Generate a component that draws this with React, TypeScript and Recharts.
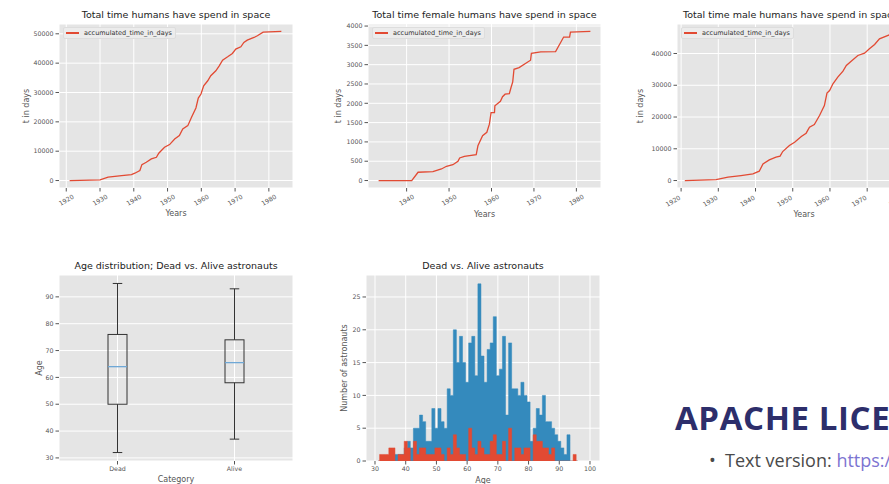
import {
  LineChart, Line, AreaChart, Area, BarChart, Bar, XAxis, YAxis, CartesianGrid, Legend,
} from 'recharts'

// matplotlib "ggplot" look
const FONT = '"DejaVu Sans", sans-serif'
const LINE_RED = '#E24A33'
const HIST_BLUE = '#348ABD'
const MEDIAN_BLUE = '#6FA8D6'
const PANEL = '#E5E5E5'
const MUTED = '#555555'
const SERIES = 'accumulated_time_in_days'

// accumulated days in space, everyone
const totalYears = [1921, 1930, 1932.4, 1936.4, 1939.3, 1940.3, 1941.8, 1942.4, 1943.7, 1945.2, 1946.7, 1947.4, 1949.1, 1950.6, 1952.1, 1953.5, 1954.5, 1956, 1957.1, 1958.4, 1959.1, 1959.9, 1960.7, 1961.9, 1962.8, 1964.3, 1965.3, 1966.3, 1967.8, 1969.2, 1970.2, 1971.7, 1972.6, 1973.6, 1975.6, 1976.6, 1978.3, 1983.7]
const totalDays = [0, 230, 1130, 1700, 2040, 2500, 3400, 5440, 6240, 7370, 7940, 9300, 11340, 12250, 14170, 15300, 17570, 18700, 21540, 24720, 28120, 29480, 32300, 34000, 35700, 37400, 39100, 41040, 42170, 43310, 44780, 45580, 47050, 47850, 48750, 49320, 50570, 50800]

// female astronauts
const femaleYears = [1933.4, 1941.2, 1942.7, 1946.2, 1948.2, 1949.4, 1950.9, 1952.1, 1952.5, 1953.6, 1956.4, 1956.8, 1957.9, 1958.9, 1959.5, 1959.9, 1960.7, 1960.8, 1962.1, 1962.6, 1963.2, 1964.2, 1964.6, 1965, 1965.3, 1966.5, 1969.2, 1969.4, 1971.6, 1975.1, 1977, 1978.4, 1978.6, 1983.3]
const femaleDays = [0, 0, 215, 230, 300, 370, 410, 500, 585, 628, 670, 900, 1160, 1250, 1460, 1760, 1760, 1935, 2050, 2170, 2235, 2250, 2410, 2555, 2880, 2925, 3115, 3295, 3330, 3340, 3715, 3715, 3845, 3860]

// male astronauts
const maleYears = [1921, 1929.4, 1932.6, 1936.1, 1939.3, 1941, 1942, 1943.7, 1945.5, 1946.6, 1947.3, 1949.1, 1950.5, 1952.3, 1953.6, 1954.5, 1955.8, 1957.2, 1958.5, 1959.2, 1959.9, 1960.8, 1962.1, 1963.5, 1964.4, 1965.7, 1967.5, 1969.3, 1970.6, 1972, 1973.3, 1976.2, 1978.3, 1983.7]
const maleDays = [0, 300, 1050, 1570, 2100, 2940, 5250, 6510, 7350, 7670, 9130, 11020, 12070, 13860, 14910, 16800, 17640, 20470, 23620, 27510, 28350, 30450, 32540, 34440, 36220, 37590, 39370, 40100, 41470, 42840, 44620, 45990, 46850, 46940]

const yearTicks = [1920, 1930, 1940, 1950, 1960, 1970, 1980]
const femaleYearTicks = [1940, 1950, 1960, 1970, 1980]
const totalDayTicks = [0, 10000, 20000, 30000, 40000, 50000]
const femaleDayTicks = [0, 500, 1000, 1500, 2000, 2500, 3000, 3500, 4000]
const maleDayTicks = [0, 10000, 20000, 30000, 40000]

// age at death / current age, box stats
const boxCategories = ['Dead', 'Alive']
const boxMin = [32, 37]
const boxQ1 = [50, 58]
const boxMedian = [64, 65.5]
const boxQ3 = [76, 74]
const boxMax = [95, 93]
const boxAgeTicks = [30, 40, 50, 60, 70, 80, 90]

// histogram, one bin per year of age (empty bins at both ends)
const histAges = [31, 32, 33, 34, 35, 36, 37, 38, 39, 40, 41, 42, 43, 44, 45, 46, 47, 48, 49, 50, 51, 52, 53, 54, 55, 56, 57, 58, 59, 60, 61, 62, 63, 64, 65, 66, 67, 68, 69, 70, 71, 72, 73, 74, 75, 76, 77, 78, 79, 80, 81, 82, 83, 84, 85, 86, 87, 88, 89, 90, 91, 92, 93, 94, 95, 96]
const aliveCounts = [0, 0, 0, 0, 0, 0, 1, 1, 1, 2, 3, 2, 5, 5, 7, 6, 3, 3, 8, 5, 8, 6, 5, 11, 10, 20, 15, 19, 15, 12, 18, 19, 13, 27, 16, 12, 17, 18, 22, 13, 14, 19, 7, 18, 11, 11, 10, 12, 10, 9, 3, 5, 8, 7, 10, 6, 6, 5, 4, 3, 2, 1, 4, 0, 0, 0]
const deadCounts = [0, 1, 1, 1, 2, 2, 0, 1, 1, 3, 2, 0, 3, 1, 2, 2, 1, 1, 1, 2, 2, 1, 0, 2, 1, 4, 2, 1, 1, 0, 5, 2, 1, 3, 2, 1, 1, 3, 4, 1, 1, 3, 0, 5, 0, 2, 2, 1, 2, 2, 0, 4, 3, 3, 2, 2, 1, 2, 0, 0, 0, 0, 0, 0, 1, 0]
const histAgeTicks = [30, 40, 50, 60, 70, 80, 90, 100]
const histCountTicks = [0, 5, 10, 15, 20, 25]

const TICK = { fill: MUTED, fontSize: 6.3, fontFamily: FONT }
const AXIS_LABEL = { fill: MUTED, fontSize: 8, fontFamily: FONT }

function Title({ text, top, cx, left }: { text: string; top: number; cx?: number; left?: number }) {
  const place = cx !== undefined ? { left: cx - 150, width: 300, textAlign: 'center' as const } : { left }
  return (
    <div style={{ position: 'absolute', top, fontFamily: FONT, fontSize: 9.5, lineHeight: '12px', color: '#222', whiteSpace: 'nowrap', ...place }}>
      {text}
    </div>
  )
}

function YearTick({ x, y, payload, align }: any) {
  const tx = align === 'right' ? x : x + 1.2
  const ty = align === 'right' ? y + 5.5 : y + 8.5
  return (
    <text x={tx} y={ty} textAnchor={align === 'right' ? 'end' : 'middle'} fill={MUTED} fontSize={6.3} fontFamily={FONT} transform={`rotate(-30, ${tx}, ${ty})`}>
      {payload.value}
    </text>
  )
}

function SeriesLegend({ payload }: any) {
  const item = payload && payload[0]
  if (!item) return null
  return (
    <div style={{ display: 'flex', alignItems: 'center', boxSizing: 'border-box', height: 12, padding: '0 3px 0 2px', background: '#ECECEC', border: '1px solid #DDDDDD', borderRadius: 2, fontFamily: FONT, fontSize: 6.5, color: '#333', whiteSpace: 'nowrap' }}>
      <span style={{ display: 'inline-block', width: 13, height: 1.4, background: item.color, marginRight: 5 }} />
      {item.value}
    </div>
  )
}

interface TimeChartProps {
  title: string
  titleLeft?: number
  years: number[]
  days: number[]
  left: number
  width: number
  yAxisWidth: number
  marginRight: number
  xDomain: [number, number]
  xTicks: number[]
  yDomain: [number, number]
  yTicks: number[]
  yLabelOffset: number
  xLabelOffset: number
  tickAlign: 'center' | 'right'
}

function TimeChart(p: TimeChartProps) {
  const data = p.years.map((year, i) => ({ year, days: p.days[i] }))
  const plotLeft = p.yAxisWidth
  const plotRight = p.width - p.marginRight
  return (
    <div style={{ position: 'absolute', left: p.left, top: 0, width: p.width, height: 225 }}>
      {p.titleLeft !== undefined
        ? <Title text={p.title} top={9} left={p.titleLeft - p.left} />
        : <Title text={p.title} top={9} cx={(plotLeft + plotRight) / 2} />}
      <LineChart width={p.width} height={225} data={data} margin={{ top: 24, right: p.marginRight, bottom: 0, left: 0 }}>
        <CartesianGrid fill={PANEL} stroke="#fff" strokeWidth={1} />
        <XAxis
          dataKey="year" type="number" domain={p.xDomain} ticks={p.xTicks} allowDataOverflow interval={0}
          height={37} axisLine={false} tickSize={3.5} tickLine={{ stroke: MUTED }}
          tick={(t: any) => <YearTick {...t} align={p.tickAlign} />}
          label={{ value: 'Years', position: 'insideBottom', offset: p.xLabelOffset, ...AXIS_LABEL, style: { textAnchor: 'middle' } }}
        />
        <YAxis
          type="number" domain={p.yDomain} ticks={p.yTicks} allowDataOverflow interval={0}
          width={p.yAxisWidth} axisLine={false} tickSize={3.5} tickLine={{ stroke: MUTED }} tick={TICK}
          label={{ value: 't in days', angle: -90, position: 'insideLeft', offset: p.yLabelOffset, ...AXIS_LABEL, style: { textAnchor: 'middle' } }}
        />
        <Legend layout="vertical" align="center" verticalAlign="middle" wrapperStyle={{ left: plotLeft + 4, top: 27, width: 'auto' }} content={SeriesLegend} />
        <Line type="linear" dataKey="days" name={SERIES} stroke={LINE_RED} strokeWidth={1.3} dot={false} isAnimationActive={false} />
      </LineChart>
    </div>
  )
}

function BoxShape(props: any) {
  const { x, y, width, height, payload } = props
  const [low, high] = payload.range
  const toY = (v: number) => y + ((high - v) / (high - low)) * height
  const cx = x + width / 2
  const capHalf = width / 4
  const q3y = toY(payload.q3)
  const q1y = toY(payload.q1)
  const medY = toY(payload.median)
  return (
    <g stroke="#333" strokeWidth={1} fill="none">
      <line x1={cx} x2={cx} y1={y} y2={q3y} />
      <line x1={cx} x2={cx} y1={q1y} y2={y + height} />
      <line x1={cx - capHalf} x2={cx + capHalf} y1={y} y2={y} />
      <line x1={cx - capHalf} x2={cx + capHalf} y1={y + height} y2={y + height} />
      <rect x={x} y={q3y} width={width} height={q1y - q3y} />
      <line x1={x} x2={x + width} y1={medY} y2={medY} stroke={MEDIAN_BLUE} strokeWidth={1.3} />
    </g>
  )
}

function AgeBoxPlot() {
  const data = boxCategories.map((category, i) => ({
    category,
    range: [boxMin[i], boxMax[i]],
    q1: boxQ1[i],
    median: boxMedian[i],
    q3: boxQ3[i],
  }))
  return (
    <div style={{ position: 'absolute', left: 0, top: 250, width: 300, height: 234 }}>
      <Title text="Age distribution; Dead vs. Alive astronauts" top={10} cx={176} />
      <BarChart width={300} height={234} data={data} margin={{ top: 25, right: 7, bottom: 0, left: 0 }} barSize={19}>
        <CartesianGrid fill={PANEL} stroke="#fff" strokeWidth={1} />
        <XAxis
          dataKey="category" height={23} axisLine={false} tickSize={3.5} tickLine={{ stroke: MUTED }} tick={TICK} interval={0}
          label={{ value: 'Category', position: 'insideBottom', offset: 2, ...AXIS_LABEL, style: { textAnchor: 'middle' } }}
        />
        <YAxis
          type="number" domain={[28.85, 98.15]} ticks={boxAgeTicks} allowDataOverflow interval={0}
          width={59} axisLine={false} tickSize={3.5} tickLine={{ stroke: MUTED }} tick={TICK}
          label={{ value: 'Age', angle: -90, position: 'insideLeft', offset: 39, ...AXIS_LABEL, style: { textAnchor: 'middle' } }}
        />
        <Bar dataKey="range" shape={(b: any) => <BoxShape {...b} />} isAnimationActive={false} />
      </BarChart>
    </div>
  )
}

function AgeHistogram() {
  const data = histAges.map((age, i) => ({ age, alive: aliveCounts[i], dead: deadCounts[i] }))
  return (
    <div style={{ position: 'absolute', left: 300, top: 250, width: 310, height: 234 }}>
      <Title text="Dead vs. Alive astronauts" top={10} cx={183} />
      <AreaChart width={310} height={234} data={data} margin={{ top: 25, right: 10, bottom: 0, left: 0 }}>
        <CartesianGrid fill={PANEL} stroke="#fff" strokeWidth={1} />
        <XAxis
          dataKey="age" type="number" domain={[27.07, 103.26]} ticks={histAgeTicks} allowDataOverflow interval={0}
          height={23} axisLine={false} tickSize={3.5} tickLine={{ stroke: MUTED }} tick={TICK}
          label={{ value: 'Age', position: 'insideBottom', offset: 1, ...AXIS_LABEL, style: { textAnchor: 'middle' } }}
        />
        <YAxis
          type="number" domain={[0, 28.35]} ticks={histCountTicks} allowDataOverflow interval={0}
          width={66} axisLine={false} tickSize={3.5} tickLine={{ stroke: MUTED }} tick={TICK}
          label={{ value: 'Number of astronauts', angle: -90, position: 'insideLeft', offset: 44, ...AXIS_LABEL, style: { textAnchor: 'middle' } }}
        />
        {/* step curve switches at the midpoint, so each count fills [age-0.5, age+0.5] */}
        <Area type="step" dataKey="alive" fill={HIST_BLUE} fillOpacity={1} stroke={HIST_BLUE} strokeWidth={0.5} dot={false} activeDot={false} isAnimationActive={false} />
        <Area type="step" dataKey="dead" fill={LINE_RED} fillOpacity={1} stroke={LINE_RED} strokeWidth={0.5} dot={false} activeDot={false} isAnimationActive={false} />
      </AreaChart>
    </div>
  )
}

function LicenseSnippet() {
  return (
    <>
      <div style={{ position: 'absolute', left: 675, top: 402, fontFamily: '"Open Sans", sans-serif', fontWeight: 700, fontSize: 33, lineHeight: '32px', letterSpacing: 0.6, color: '#2D2E6B', whiteSpace: 'nowrap' }}>
        APACHE LICENSE 2.0
      </div>
      <div style={{ position: 'absolute', left: 709, top: 451, fontFamily: '"Open Sans", sans-serif', fontSize: 18, lineHeight: '18px', color: '#4A4A4A', whiteSpace: 'nowrap' }}>
        <span style={{ display: 'inline-block', width: 16 }}>•</span>
        Text version: <span style={{ color: '#7C74D1' }}>https://www.apache.org/licenses/LICENSE-2.0.txt</span>
      </div>
    </>
  )
}

export default function App() {
  return (
    <div style={{ position: 'absolute', left: 0, top: 0, width: 889, height: 484, overflow: 'hidden', background: '#fff' }}>
      <TimeChart
        title="Total time humans have spend in space" years={totalYears} days={totalDays}
        left={0} width={300} yAxisWidth={59} marginRight={7}
        xDomain={[1917.85, 1987.15]} xTicks={yearTicks} yDomain={[-2540, 53340]} yTicks={totalDayTicks}
        yLabelOffset={26} xLabelOffset={9} tickAlign="center"
      />
      <TimeChart
        title="Total time female humans have spend in space" years={femaleYears} days={femaleDays}
        left={300} width={310} yAxisWidth={68} marginRight={9}
        xDomain={[1930.9, 1985.8]} xTicks={femaleYearTicks} yDomain={[-193, 4053]} yTicks={femaleDayTicks}
        yLabelOffset={38} xLabelOffset={8} tickAlign="center"
      />
      <TimeChart
        title="Total time male humans have spend in space" titleLeft={683} years={maleYears} days={maleDays}
        left={610} width={340} yAxisWidth={67} marginRight={19}
        xDomain={[1918.9, 1987.15]} xTicks={yearTicks} yDomain={[-2347, 49287]} yTicks={maleDayTicks}
        yLabelOffset={30} xLabelOffset={8} tickAlign="right"
      />
      <AgeBoxPlot />
      <AgeHistogram />
      <LicenseSnippet />
    </div>
  )
}
